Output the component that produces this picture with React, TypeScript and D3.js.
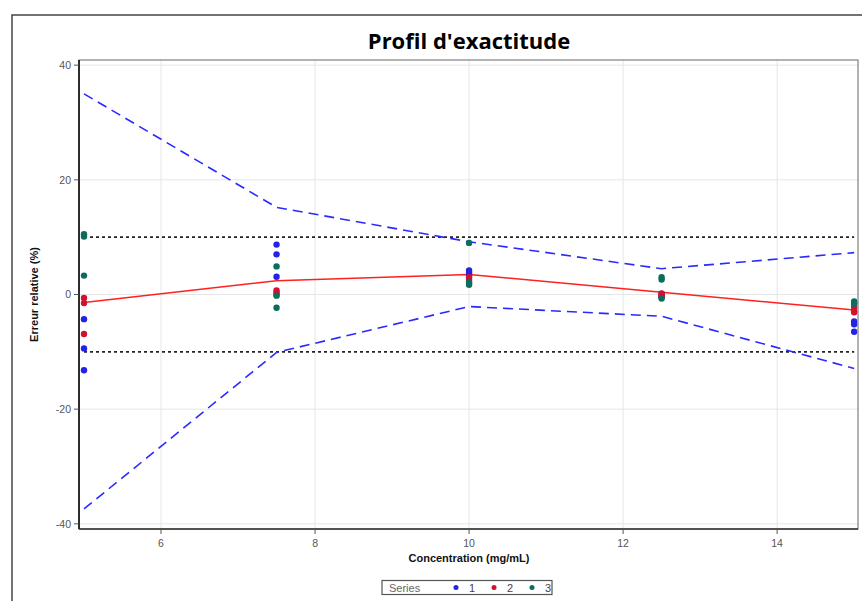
import React from "react";
import * as d3 from "d3";

// Concentration levels (mg/mL)
const levels = [5, 7.5, 10, 12.5, 15];

// Relative error (%) per series, three replicates per level
const series1 = [
  [-4.3, -9.4, -13.2],
  [8.7, 7.0, 3.1],
  [4.2, 3.8, 3.3],
  [0.1, -0.3, -0.5],
  [-4.7, -5.2, -6.5],
];
const series2 = [
  [-0.6, -1.5, -6.9],
  [0.7, 0.3, 0.0],
  [3.0, 2.6, 2.0],
  [0.2, -0.2, -0.4],
  [-2.2, -2.9, -3.1],
];
const series3 = [
  [10.5, 10.1, 3.3],
  [4.9, -0.2, -2.3],
  [9.0, 2.2, 1.7],
  [3.0, 2.6, -0.7],
  [-1.2, -1.5, -1.6],
];

// Mean relative error and tolerance interval bounds
const meanBias = [-1.4, 2.4, 3.5, 0.4, -2.7];
const upperTol = [35.0, 15.2, 9.2, 4.5, 7.3];
const lowerTol = [-37.4, -10.1, -2.1, -3.8, -12.9];

// Acceptance limits (%)
const acceptLimits = [10, -10];

const xTicks = [6, 8, 10, 12, 14];
const yTicks = [40, 20, 0, -20, -40];

const seriesNames = ["1", "2", "3"];
const seriesColors = ["#2323e8", "#d21030", "#0b6e5c"];

const W = 862;
const H = 601;
const plot = { left: 79, right: 858, top: 60, bottom: 529 };

export default function App() {
  const x = d3.scaleLinear().domain([4.935, 15.05]).range([plot.left, plot.right]);
  const y = d3.scaleLinear().domain([-40.9, 40.9]).range([plot.bottom, plot.top]);

  const line = d3
    .line<number>()
    .x((_, i) => x(levels[i]))
    .y((d) => y(d));

  const allSeries = [series1, series2, series3];
  const tickFont = "'Liberation Sans Narrow', 'Liberation Sans', Arial, sans-serif";

  return (
    <svg
      width={W}
      height={H}
      style={{ position: "absolute", left: 0, top: 0, background: "#fff" }}
    >
      {/* outer frame */}
      <path d={`M12,${H} V15 H${W}`} fill="none" stroke="#444" strokeWidth={1.5} />

      <text
        x={469}
        y={49}
        textAnchor="middle"
        fontFamily="'Open Sans', 'DejaVu Sans', sans-serif"
        fontWeight="bold"
        fontSize={22}
        fill="#000"
      >
        Profil d'exactitude
      </text>

      {/* grid */}
      {xTicks.map((t) => (
        <line key={"gx" + t} x1={x(t)} x2={x(t)} y1={plot.top} y2={plot.bottom} stroke="#e6e6e6" strokeWidth={1} />
      ))}
      {yTicks.map((t) => (
        <line key={"gy" + t} x1={plot.left} x2={plot.right} y1={y(t)} y2={y(t)} stroke="#e6e6e6" strokeWidth={1} />
      ))}

      {/* acceptance limits */}
      {acceptLimits.map((v) => (
        <line
          key={"acc" + v}
          x1={x(levels[0])}
          x2={x(levels[levels.length - 1])}
          y1={y(v)}
          y2={y(v)}
          stroke="#222"
          strokeWidth={1.6}
          strokeDasharray="3,3"
        />
      ))}

      {/* tolerance bounds */}
      {[upperTol, lowerTol].map((arr, i) => (
        <path
          key={"tol" + i}
          d={line(arr) || ""}
          fill="none"
          stroke="#2a2aff"
          strokeWidth={1.6}
          strokeDasharray="10,6"
        />
      ))}

      {/* mean bias */}
      <path d={line(meanBias) || ""} fill="none" stroke="#ff2020" strokeWidth={1.5} />

      {/* replicate points */}
      {allSeries.map((s, si) =>
        s.map((vals, li) =>
          vals.map((v, k) => (
            <circle
              key={`p${si}-${li}-${k}`}
              cx={x(levels[li])}
              cy={y(v)}
              r={3.2}
              fill={seriesColors[si]}
            />
          ))
        )
      )}

      {/* plot frame */}
      <rect
        x={plot.left}
        y={plot.top}
        width={plot.right - plot.left}
        height={plot.bottom - plot.top}
        fill="none"
        stroke="#666"
        strokeWidth={1}
      />
      <line x1={plot.left} x2={plot.left} y1={plot.top} y2={plot.bottom} stroke="#000" strokeWidth={1.5} />
      <line x1={plot.left} x2={plot.right} y1={plot.bottom} y2={plot.bottom} stroke="#333" strokeWidth={1.5} />

      {/* y axis */}
      {yTicks.map((t) => (
        <g key={"yt" + t}>
          <line x1={plot.left - 5} x2={plot.left} y1={y(t)} y2={y(t)} stroke="#555" />
          <text
            x={plot.left - 8}
            y={y(t)}
            dy="0.35em"
            textAnchor="end"
            fontFamily={tickFont}
            fontSize={10.5}
            fill="#555"
          >
            {t}
          </text>
        </g>
      ))}

      {/* x axis */}
      {xTicks.map((t) => (
        <g key={"xt" + t}>
          <line x1={x(t)} x2={x(t)} y1={plot.bottom} y2={plot.bottom + 5} stroke="#555" />
          <text
            x={x(t)}
            y={plot.bottom + 18}
            textAnchor="middle"
            fontFamily={tickFont}
            fontSize={10.5}
            fill="#555"
          >
            {t}
          </text>
        </g>
      ))}

      <text
        x={469}
        y={562}
        textAnchor="middle"
        fontFamily="'Liberation Sans', Arial, sans-serif"
        fontWeight="bold"
        fontSize={11}
        fill="#111"
      >
        Concentration (mg/mL)
      </text>
      <text
        transform={`translate(38,${y(0)}) rotate(-90)`}
        textAnchor="middle"
        fontFamily="'Liberation Sans', Arial, sans-serif"
        fontWeight="bold"
        fontSize={11}
        fill="#111"
      >
        Erreur relative (%)
      </text>

      {/* legend */}
      <rect x={382} y={580.5} width={170} height={14} fill="#fff" stroke="#555" strokeWidth={1.2} />
      <text x={389} y={592} fontFamily={tickFont} fontSize={11} fill="#666">
        Series
      </text>
      {seriesNames.map((n, i) => (
        <g key={"lg" + n}>
          <circle cx={456 + i * 38} cy={587.5} r={2.5} fill={seriesColors[i]} />
          <text x={469 + i * 38} y={592} fontFamily={tickFont} fontSize={11} fill="#444">
            {n}
          </text>
        </g>
      ))}
    </svg>
  );
}
